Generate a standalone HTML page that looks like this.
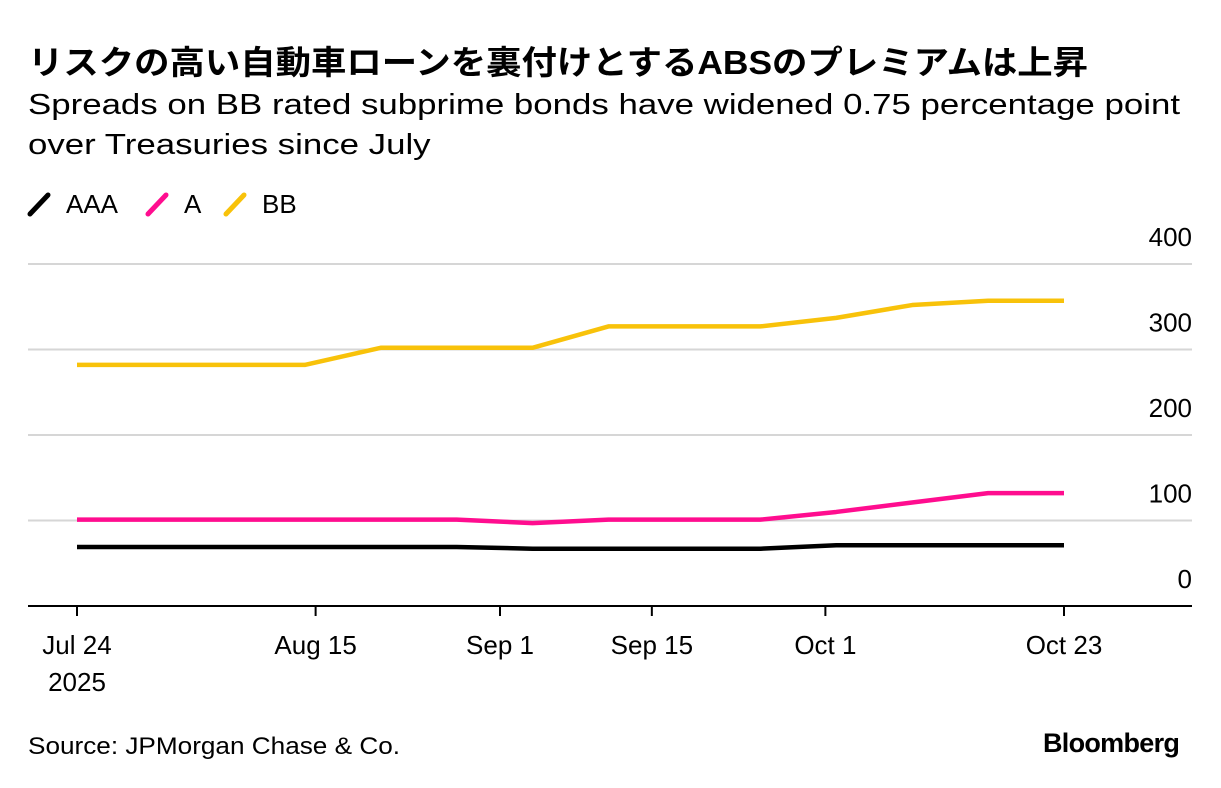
<!DOCTYPE html>
<html><head><meta charset="utf-8"><style>
body{margin:0;width:1221px;height:788px;background:#fff;font-family:"Liberation Sans","Noto Sans CJK JP",sans-serif;color:#000;overflow:hidden;position:relative}
.t{position:absolute;white-space:nowrap;transform-origin:0 0}
</style></head><body>
<div class="t fit" data-w="1060" style="left:28px;top:36px;font-size:33px;font-weight:bold;">リスクの高い自動車ローンを裏付けとするABSのプレミアムは上昇</div>
<div class="t fit" data-w="1152" style="left:28px;top:85px;font-size:29px;line-height:40px;">Spreads on BB rated subprime bonds have widened 0.75 percentage point<br>over Treasuries since July</div>
<svg id="c" width="1221" height="788" style="position:absolute;left:0;top:0"></svg>
<div class="t fit" data-w="372" style="left:28px;top:733px;font-size:24px;">Source: JPMorgan Chase &amp; Co.</div>
<div class="t" style="left:1043px;top:728px;font-size:27px;font-weight:bold;letter-spacing:-0.7px">Bloomberg</div>
<script>
const days=[0,7,14,21,28,35,42,49,56,63,70,77,84,91];
const bb=[282,282,282,282,302,302,302,327,327,327,337,352,357,357];
const a=[101,101,101,101,101,101,97,101,101,101,110,121,132,132];
const aaa=[69,69,69,69,69,69,67,67,67,67,71,71,71,71];
const yTicks=[0,100,200,300,400];
const xTickDays=[0,22,39,53,69,91];
const xTickLabels=["Jul 24","Aug 15","Sep 1","Sep 15","Oct 1","Oct 23"];
const seriesNames=["AAA","A","BB"];
const colors=["#000000","#ff0d8f","#f8c20a"];
const NS="http://www.w3.org/2000/svg";
const svg=document.getElementById('c');
const X=d=>77+d*(1064-77)/91;
const Y=v=>606-v*0.855;
function mk(t,at){const e=document.createElementNS(NS,t);for(const k in at)e.setAttribute(k,at[k]);svg.appendChild(e);return e;}
yTicks.forEach(v=>{
 if(v>0){const l=mk('line',{x1:28,x2:1192,y1:Y(v),y2:Y(v),stroke:'#d6d6d6','stroke-width':2});
 
 }
 const t=mk('text',{x:1192,y:Y(v)-18,'text-anchor':'end','font-size':26,'font-family':'Liberation Sans, sans-serif'});
 t.textContent=v;
 
 
});
const ax=mk('line',{x1:28,x2:1192,y1:606,y2:606,stroke:'#000','stroke-width':2});


xTickDays.forEach((d,i)=>{
 const k=mk('line',{x1:X(d),x2:X(d),y1:606,y2:616,stroke:'#000','stroke-width':2});
 
 
 const t=mk('text',{x:X(d),y:654,'text-anchor':'middle','font-size':26,'font-family':'Liberation Sans, sans-serif'});
 t.textContent=xTickLabels[i];
 
 
});
const yr=mk('text',{x:X(0),y:691,'text-anchor':'middle','font-size':26,'font-family':'Liberation Sans, sans-serif'});
yr.textContent="2025";


[aaa,a,bb].forEach((s,i)=>{
 const p=mk('polyline',{points:s.map((v,j)=>X(days[j])+','+Y(v)).join(' '),fill:'none',stroke:colors[i],'stroke-width':4.5,'stroke-linejoin':'round'});
 
 
});
let lx=30;
seriesNames.forEach((n,i)=>{
 const l=mk('line',{x1:lx,y1:214,x2:lx+18,y2:195,stroke:colors[i],'stroke-width':5,'stroke-linecap':'round'});
 
 
 const t=mk('text',{x:lx+36,y:213,'font-size':26,'font-family':'Liberation Sans, sans-serif'});
 t.textContent=n;
 
 
 lx+= [118,78,0][i];
});
document.querySelectorAll('.fit').forEach(el=>{
 const w=el.getBoundingClientRect().width;
 const target=+el.dataset.w;
 el.style.transform='scaleX('+(target/w)+')';
});
</script>
</body></html>
